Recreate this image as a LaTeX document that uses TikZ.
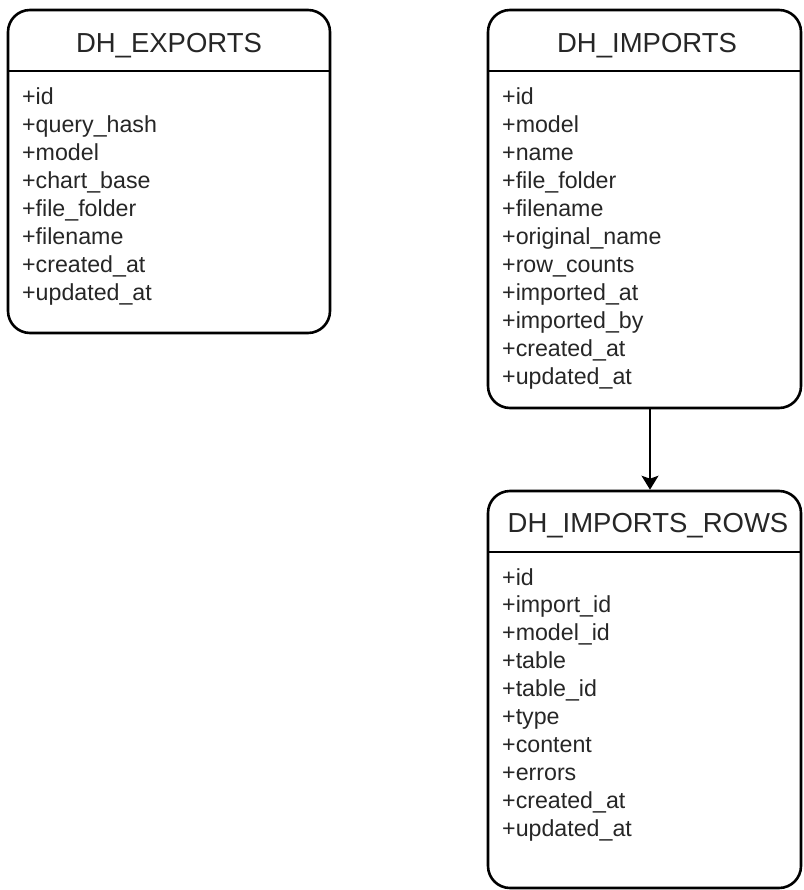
\documentclass[tikz,border=0pt]{standalone}
\usepackage{fontspec}
\setmainfont{Liberation Sans}
\usetikzlibrary{arrows.meta}
\begin{document}
\begin{tikzpicture}[x=1pt,y=-1pt,
  tablebox/.style={draw=black,line width=2.6pt,rounded corners=22pt,inner sep=0pt},
  headrule/.style={line width=2.4pt},
  titletext/.style={inner sep=0pt,anchor=base,font=\fontsize{27.5}{33}\selectfont,text=black!85},
  rowtext/.style={inner sep=0pt,anchor=base west,font=\fontsize{23.2}{28}\selectfont,text=black!85},
  link/.style={line width=1.4pt,-{Stealth[width=17pt,length=14pt,inset=3pt]}}]
\useasboundingbox (0,0) rectangle (803,890);

% DH_EXPORTS table
\node[tablebox,minimum width=322pt,minimum height=323pt] (exp) at (169,171.5) {};
\draw[headrule] (8,71) coordinate (exp-hl) -- (330,71) coordinate (exp-hr);
\node[titletext] (exp-title) at (169,52.5) {DH\_EXPORTS};
\foreach \t [count=\i from 0] in {id,query\_hash,model,chart\_base,file\_folder,filename,created\_at,updated\_at}
  \node[rowtext] (exp-row\i) at (22,105+27.9*\i) {+\t};

% DH_IMPORTS table
\node[tablebox,minimum width=313pt,minimum height=398pt] (imp) at (644.5,209) {};
\draw[headrule] (488,71) coordinate (imp-hl) -- (801,71) coordinate (imp-hr);
\node[titletext] (imp-title) at (647,52.5) {DH\_IMPORTS};
\foreach \t [count=\i from 0] in {id,model,name,file\_folder,filename,original\_name,row\_counts,imported\_at,imported\_by,created\_at,updated\_at}
  \node[rowtext] (imp-row\i) at (502,105+27.9*\i) {+\t};

% DH_IMPORTS_ROWS table
\node[tablebox,minimum width=313pt,minimum height=397pt] (rows) at (644.5,689.5) {};
\draw[headrule] (488,552) coordinate (rows-hl) -- (801,552) coordinate (rows-hr);
\node[titletext] (rows-title) at (648,532) {DH\_IMPORTS\_ROWS};
\foreach \t [count=\i from 0] in {id,import\_id,model\_id,table,table\_id,type,content,errors,created\_at,updated\_at}
  \node[rowtext] (rows-row\i) at (502,585+27.9*\i) {+\t};

% relation: import -> import rows
\draw[link] ([xshift=5.5pt]imp.south) -- ([xshift=5.5pt]rows.north);
\end{tikzpicture}
\end{document}
